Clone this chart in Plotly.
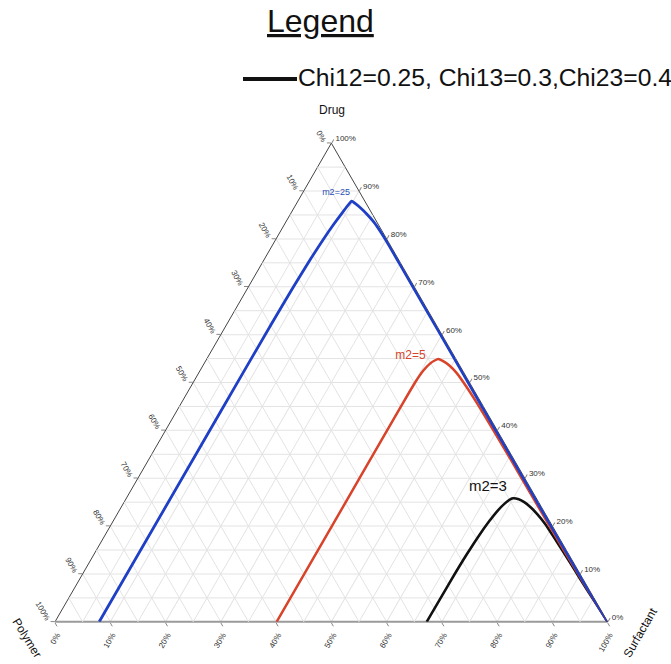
import plotly.graph_objects as go

# Phase-boundary curves, in percent: Drug (a), Surfactant (c); Polymer = remainder
m25_drug = [0, 44, 62, 70, 76, 80, 83, 85.5, 87, 87.9,
            87.4, 86.5, 85.2, 83.5, 81.5, 79, 75, 60, 30, 8, 0]
m25_surf = [8.0, 8.0, 8.05, 8.15, 8.35, 8.6, 8.9, 9.25, 9.5, 9.73,
            10.6, 12.0, 13.8, 15.95, 18.15, 20.75, 24.75, 39.75, 69.75, 91.8, 100]

m5_drug = [0, 30, 45, 50, 52.5, 54, 54.6, 54.91,
           54.5, 53.6, 52, 49, 44.3, 35, 25, 15, 8, 0]
m5_surf = [40.1, 40.1, 40.1, 40.15, 40.4, 40.9, 41.4, 41.9,
           42.9, 44.5, 46.65, 50.0, 54.95, 64.4, 74.45, 84.55, 91.7, 100]

m3_drug = [0, 8, 14, 18, 21, 23.3, 24.8, 25.6, 25.82,
           25.6, 25.0, 24.0, 22.5, 20.5, 17, 13, 9, 5, 2, 0]
m3_surf = [67.25, 67.3, 67.45, 67.7, 68.05, 68.5, 69.05, 69.55, 70.01,
           71.1, 72.4, 74.0, 76.0, 78.4, 82.15, 86.35, 90.5, 94.7, 97.88, 100]

# Curve labels: name, drug %, surfactant %
label_names = ["m2=25", "m2=5", "m2=3"]
label_drug = [89.67, 55.59, 28.12]
label_surf = [6.01, 36.52, 64.28]

curve_colors = ["#1f3fc6", "#d8432a", "#111111"]
label_colors = ["#2a4fb4", "#d4432c", "#111111"]
label_sizes = [9, 12, 15]

tick_vals = [0, 10, 20, 30, 40, 50, 60, 70, 80, 90, 100]
tick_text = ["100%", "90%", "80%", "70%", "60%", "50%",
             "40%", "30%", "20%", "10%", "0%"]
minor_grid = [5, 15, 25, 35, 45, 55, 65, 75, 85, 95]

legend_text = "Chi12=0.25, Chi13=0.3,Chi23=0.4"

FONT = "Liberation Sans, Arial, Helvetica, sans-serif"
GRID = "#e3e3e3"


def polymer(drug, surf):
    return [100 - d - s for d, s in zip(drug, surf)]


fig = go.Figure()

# 5 % grid lines between the 10 % axis grid lines
for k in minor_grid:
    for a, b, c in (([k, k], [100 - k, 0], [0, 100 - k]),
                    ([100 - k, 0], [k, k], [0, 100 - k]),
                    ([100 - k, 0], [0, 100 - k], [k, k])):
        fig.add_trace(go.Scatterternary(
            a=a, b=b, c=c, mode="lines",
            line=dict(color=GRID, width=1),
            hoverinfo="skip", showlegend=False))

# draw m2=3 first and m2=25 last so the blue sits on top along the edge
curves = [
    (m3_drug, m3_surf, curve_colors[2], 2.6),
    (m5_drug, m5_surf, curve_colors[1], 2.5),
    (m25_drug, m25_surf, curve_colors[0], 2.8),
]
for drug, surf, col, w in curves:
    fig.add_trace(go.Scatterternary(
        a=drug, b=polymer(drug, surf), c=surf, mode="lines",
        line=dict(color=col, width=w, shape="spline", smoothing=0.6),
        cliponaxis=False, hoverinfo="skip", showlegend=False))

for i, name in enumerate(label_names):
    fig.add_trace(go.Scatterternary(
        a=[label_drug[i]], b=polymer([label_drug[i]], [label_surf[i]]),
        c=[label_surf[i]], mode="text", text=[name],
        textposition="middle center",
        textfont=dict(family=FONT, size=label_sizes[i], color=label_colors[i]),
        cliponaxis=False, hoverinfo="skip", showlegend=False))


def axis(angle, linecolor, linewidth):
    return dict(
        title=dict(text=""), min=0,
        tickmode="array", tickvals=tick_vals, ticktext=tick_text,
        tickangle=angle, tickfont=dict(family=FONT, size=8, color="#333333"),
        ticks="outside", ticklen=4, tickcolor="#888888", tickwidth=1,
        showgrid=True, gridcolor=GRID, gridwidth=1,
        showline=True, linecolor=linecolor, linewidth=linewidth,
        layer="below traces")


W, H = 671, 664
fig.update_layout(
    width=W, height=H, autosize=False,
    margin=dict(l=0, r=0, t=0, b=0),
    paper_bgcolor="white", plot_bgcolor="white",
    font=dict(family=FONT),
    ternary=dict(
        sum=100, bgcolor="white",
        domain=dict(x=[55 / W, 607.7 / W], y=[42 / H, 521 / H]),
        aaxis=axis(60, "#444444", 1),
        baxis=axis(-60, "#9a9a9a", 2),
        caxis=axis(0, "#444444", 1),
    ),
    showlegend=False,
)

annotations = [
    dict(text="Drug", x=332 / W, y=1 - 110 / H, font=dict(size=12, color="#111")),
    dict(text="Polymer", x=27 / W, y=1 - 638 / H, textangle=58,
         font=dict(size=12, color="#111")),
    dict(text="Surfactant", x=640 / W, y=1 - 633 / H, textangle=-60,
         font=dict(size=12, color="#111")),
    dict(text="<u>Legend</u>", x=320 / W, y=1 - 21 / H,
         font=dict(size=32, color="#111")),
    dict(text=legend_text, x=296 / W, y=1 - 77 / H, xanchor="left",
         font=dict(size=24.7, color="#111")),
]
for ann in annotations:
    ann.setdefault("xanchor", "center")
    ann.update(xref="paper", yref="paper", yanchor="middle", showarrow=False)
fig.update_layout(annotations=annotations)

# legend key line
fig.add_shape(type="line", xref="paper", yref="paper",
              x0=243 / W, x1=297 / W, y0=1 - 79 / H, y1=1 - 79 / H,
              line=dict(color="#111111", width=4))

fig.write_html("out.html")
